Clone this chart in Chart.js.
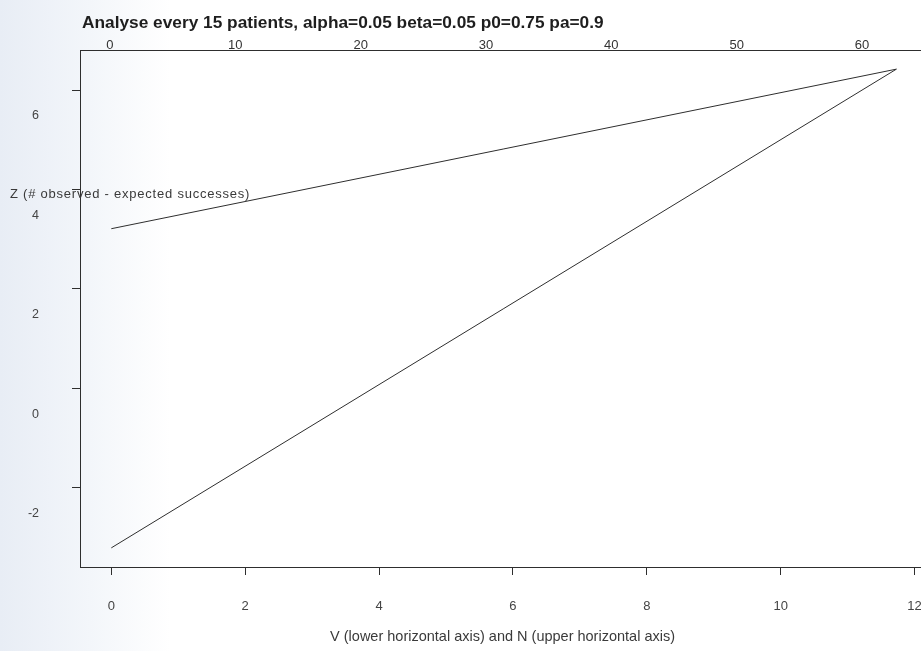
<!DOCTYPE html>
<html>
<head>
<meta charset="utf-8">
<script src="https://cdn.jsdelivr.net/npm/chart.js@4/dist/chart.umd.min.js"></script>
<style>
  html, body { margin: 0; padding: 0; }
  body {
    width: 921px; height: 651px; overflow: hidden;
    background: linear-gradient(to right, #e8edf5 0px, #f3f6fa 90px, #ffffff 170px);
  }
  #wrap { width: 946px; height: 651px; }
</style>
</head>
<body>
<div id="wrap"><canvas id="triChart" width="946" height="651"></canvas></div>
<script>
// données
const TITLE = "Analyse every 15 patients, alpha=0.05 beta=0.05 p0=0.75 pa=0.9";
const Y_TITLE = "Z (# observed - expected successes)";
const X_TITLE = "V (lower horizontal axis) and N (upper horizontal axis)";

const V_POINTS = [0, 11.73];        // V aux extrémités
const UPPER_Z = [3.21, 6.42];       // frontière haute
const LOWER_Z = [-3.21, 6.42];      // frontière basse

const V_RANGE = [-0.4676, 12.158];
const N_RANGE = [-2.39, 65.03];     // axe du haut (N patients)
const Z_RANGE = [-3.595, 6.805];

const INK = "#2e2e2e";
const FONT = "'Liberation Sans', Arial, sans-serif";

function toPoints(xs, ys) {
    return xs.map((x, i) => ({ x: x, y: ys[i] }));
}

/* -------------------------------------------------------------------------- */
/*  textes libres (titre + légende de l'axe Z)                                */
/* -------------------------------------------------------------------------- */

const textPlugin = {
    id: "freeText",
    afterDraw(chart) {
        const ctx = chart.ctx;
        const area = chart.chartArea;
        ctx.save();
        ctx.fillStyle = "#1e1e1e";
        ctx.font = "bold 17.3px " + FONT;
        ctx.textBaseline = "middle";
        ctx.textAlign = "left";
        ctx.fillText(TITLE, area.left + 2, 23);

        ctx.fillStyle = "#3a3a3a";
        ctx.font = "13px " + FONT;
        const w = ctx.measureText(Y_TITLE).width;
        ctx.letterSpacing = ((240 - w) / Y_TITLE.length).toFixed(2) + "px";
        const yPix = chart.scales.y.getPixelForValue(3.9);
        ctx.fillText(Y_TITLE, 10, yPix);
        ctx.restore();
    }
};

new Chart(document.getElementById("triChart"), {
    type: "scatter",
    data: {
        datasets: [
            {
                label: "upper",
                data: toPoints(V_POINTS, UPPER_Z),
                showLine: true,
                borderColor: INK,
                borderWidth: 1,
                pointRadius: 0
            },
            {
                label: "lower",
                data: toPoints(V_POINTS, LOWER_Z),
                showLine: true,
                borderColor: INK,
                borderWidth: 1,
                pointRadius: 0
            }
        ]
    },
    options: {
        responsive: false,
        animation: false,
        layout: { padding: { right: 15, left: 0, top: 0, bottom: 0 } },
        plugins: {
            legend: { display: false },
            tooltip: { enabled: false }
        },
        scales: {
            x: {
                type: "linear",
                position: "bottom",
                min: V_RANGE[0],
                max: V_RANGE[1],
                afterFit: s => { s.height = 84; },
                ticks: {
                    stepSize: 2,
                    includeBounds: false,
                    padding: 24,
                    color: "#444",
                    font: { family: FONT, size: 13 },
                    maxRotation: 0
                },
                grid: { drawOnChartArea: false, drawTicks: true, tickLength: 8, color: INK },
                border: { display: true, color: INK, width: 1 },
                title: {
                    display: true,
                    text: X_TITLE,
                    color: "#3a3a3a",
                    font: { family: FONT, size: 14.5 },
                    padding: { top: 0, bottom: 5 }
                }
            },
            x2: {
                type: "linear",
                position: "top",
                min: N_RANGE[0],
                max: N_RANGE[1],
                afterFit: s => { s.height = 50; },
                ticks: {
                    stepSize: 10,
                    includeBounds: false,
                    padding: -3,
                    color: "#333",
                    font: { family: FONT, size: 13 },
                    maxRotation: 0
                },
                grid: { drawOnChartArea: false, drawTicks: false },
                border: { display: true, color: INK, width: 1 }
            },
            y: {
                type: "linear",
                position: "left",
                min: Z_RANGE[0],
                max: Z_RANGE[1],
                afterFit: s => { s.width = 80; },
                ticks: {
                    stepSize: 2,
                    includeBounds: false,
                    padding: 33,
                    labelOffset: 26,
                    color: "#444",
                    font: { family: FONT, size: 12.5 }
                },
                grid: { drawOnChartArea: false, drawTicks: true, tickLength: 8, color: INK },
                border: { display: true, color: INK, width: 1 }
            }
        }
    },
    plugins: [textPlugin]
});
</script>
</body>
</html>
